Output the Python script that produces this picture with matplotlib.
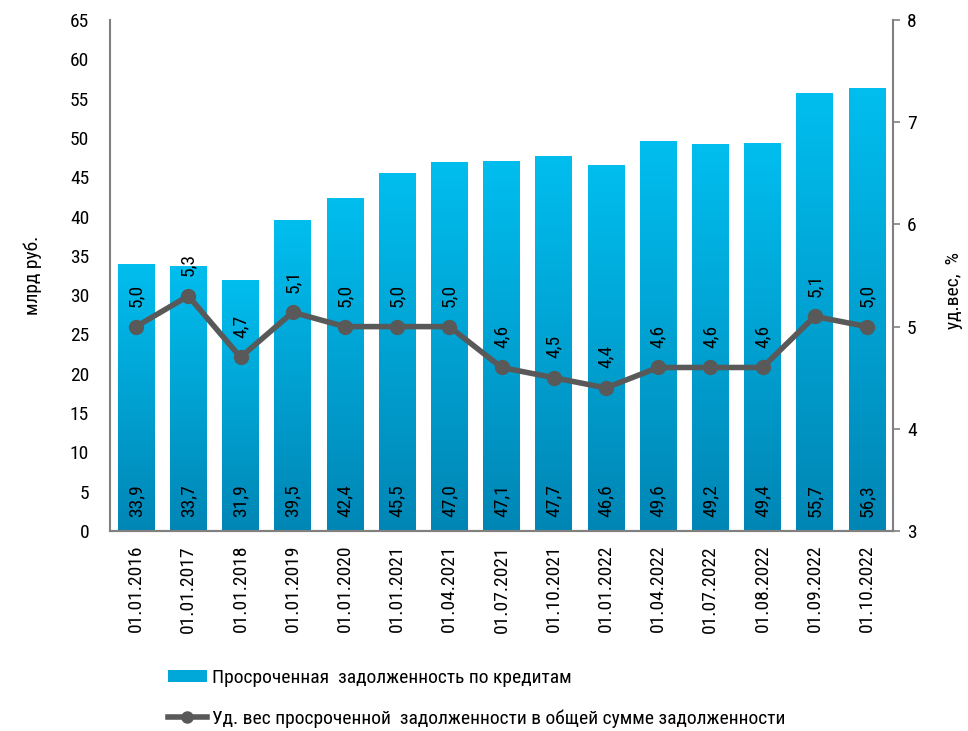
import matplotlib
matplotlib.use("Agg")
import matplotlib.pyplot as plt
import numpy as np
from matplotlib.lines import Line2D
from matplotlib.patches import Patch
from matplotlib.colors import LinearSegmentedColormap

plt.rcParams['font.family'] = ['Roboto Condensed', 'DejaVu Sans']

dates = ["01.01.2016", "01.01.2017", "01.01.2018", "01.01.2019", "01.01.2020",
         "01.01.2021", "01.04.2021", "01.07.2021", "01.10.2021", "01.01.2022",
         "01.04.2022", "01.07.2022", "01.08.2022", "01.09.2022", "01.10.2022"]
overdue = [33.9, 33.7, 31.9, 39.5, 42.4, 45.5, 47.0, 47.1, 47.7, 46.6,
           49.6, 49.2, 49.4, 55.7, 56.3]
share = [5.0, 5.3, 4.7, 5.14, 5.0, 5.0, 5.0, 4.6, 4.5, 4.4, 4.6, 4.6, 4.6, 5.1, 5.0]

FS = 14
fig = plt.figure(figsize=(9.68, 7.31), dpi=100)
W, H = 968, 731
ax = fig.add_axes([110 / W, (H - 531) / H, (893 - 110) / W, (531 - 20) / H])
ax2 = ax.twinx()

x = np.arange(len(dates))
bars = ax.bar(x, overdue, width=0.7, color='none', edgecolor='none', zorder=2)

grad = np.linspace(0, 1, 256).reshape(-1, 1)
cmap = LinearSegmentedColormap.from_list('g', ['#0086B5', '#00BEEF'])
for b in bars:
    x0, y0 = b.get_x(), b.get_y()
    w, h = b.get_width(), b.get_height()
    im = ax.imshow(grad, extent=[x0, x0 + w, y0, y0 + h], origin='lower',
                   cmap=cmap, aspect='auto', zorder=2)
    im.set_clip_path(b)
ax.set_xlim(-0.5, len(dates) - 0.5)
ax.set_ylim(0, 65)

for xi, v in zip(x, overdue):
    ax.annotate(f"{v:.1f}".replace('.', ','), (xi, 0), xytext=(0, 10),
                textcoords='offset points', rotation=90, ha='center', va='bottom',
                fontsize=FS, color='black', zorder=5)

ax2.plot(x, share, color='#595959', lw=4, marker='o', ms=10, zorder=4)
ax2.set_ylim(3, 8)
for xi, v in zip(x, share):
    ax2.annotate(f"{v:.1f}".replace('.', ','), (xi, v), xytext=(0, 14),
                 textcoords='offset points', rotation=90, ha='center', va='bottom',
                 fontsize=FS, color='black', zorder=5)

ax.set_yticks(np.arange(0, 66, 5))
ax.set_xticks(x)
ax.set_xticklabels(dates, rotation=90, fontsize=FS)
ax.tick_params(axis='x', length=0, pad=10)
ax.tick_params(axis='y', length=0, labelsize=FS, pad=15)
ax2.set_yticks(np.arange(3, 9, 1))
ax2.tick_params(axis='y', length=5, width=1.2, color='#808080', labelsize=FS, pad=5)

for a in (ax, ax2):
    a.spines['top'].set_visible(False)
    for s in ('left', 'right', 'bottom'):
        a.spines[s].set_color('#808080')
        a.spines[s].set_linewidth(1.5)
ax2.spines['left'].set_visible(False)
ax.spines['right'].set_visible(False)

ax.set_ylabel("млрд руб.", fontsize=FS, labelpad=20)
ax2.set_ylabel("уд.вес,  %", fontsize=FS, rotation=90)
ax2.yaxis.set_label_coords(1.066, 0.47)

handles = [Patch(facecolor='#00A8DA', edgecolor='none'),
           Line2D([0], [0], color='#595959', lw=4, marker='o', ms=8)]
labels = ["Просроченная  задолженность по кредитам",
          "Уд. вес просроченной  задолженности в общей сумме задолженности"]
fig.legend(handles, labels, loc='upper left', bbox_to_anchor=(168 / W, 1 - 669 / H),
           frameon=False, fontsize=FS, handlelength=2.0, handleheight=0.6,
           handletextpad=0.25, labelspacing=1.15, borderaxespad=0, borderpad=0)

fig.savefig("out.png", dpi=100)
